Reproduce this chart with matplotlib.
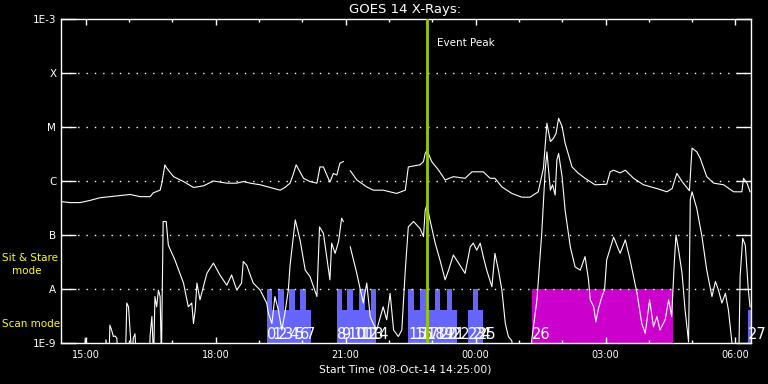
import numpy as np
import matplotlib
matplotlib.use('Agg')
import matplotlib.pyplot as plt
from matplotlib.ticker import FixedLocator, NullLocator

nan = np.nan

# time axis: hours after start time 08-Oct-14 14:25:00
start_hour = 14 + 25 / 60
t_end = 15.93

# GOES 14 long channel (1-8 A), log10 flux
long_t = [0.0, 0.22, 0.45, 0.68, 0.91, 1.14, 1.37, 1.61, 1.84, 2.07, 2.14, 2.30, 2.34, 2.41, 2.45,
          2.61, 2.84, 3.07, 3.30, 3.53, 3.84, 4.07, 4.22, 4.38, 4.61, 4.84, 5.07, 5.18, 5.30, 5.38,
          5.44, 5.53, 5.61, 5.76, 5.92, 5.99, 6.07, 6.15, 6.22, 6.30, 6.38, 6.45, 6.53, 6.60, 6.69,
          6.84, 7.07, 7.22, 7.45, 7.76, 7.96, 8.03, 8.30, 8.38, 8.42, 8.46, 8.57, 8.73, 8.88, 9.07,
          9.34, 9.50, 9.76, 9.92, 10.03, 10.19, 10.42, 10.65, 10.84, 11.03, 11.15, 11.23, 11.31, 11.38,
          11.44, 11.50, 11.58, 11.65, 11.81, 11.96, 12.11, 12.34, 12.61, 12.69, 12.77, 12.92, 13.04,
          13.23, 13.46, 13.81, 14.00, 14.12, 14.23, 14.35, 14.52, 14.58, 14.69, 14.77, 14.92, 15.08,
          15.31, 15.54, 15.73, 15.77, 15.85, 15.92]
long_v = [-6.38, -6.40, -6.40, -6.36, -6.31, -6.29, -6.27, -6.25, -6.29, -6.29, -6.22, -6.17, -6.04,
          -5.70, -5.76, -5.92, -6.01, -6.12, -6.09, -6.00, -6.04, -6.04, -6.01, -6.04, -6.07, -6.12,
          -6.17, -6.12, -6.04, -5.86, -5.70, -5.83, -5.95, -6.01, -6.04, -5.74, -5.74, -5.89, -6.02,
          -5.86, -5.89, -5.67, -5.64, nan, -5.81, -5.98, -6.11, -6.17, -6.17, -6.23, -6.17, -5.74,
          -5.70, -5.64, -5.49, -5.43, -5.64, -5.80, -5.98, -5.92, -5.95, -5.83, -5.83, -5.95, -5.95,
          -6.11, -6.23, -6.30, -6.30, -6.20, -5.76, -4.93, -5.27, -5.21, -5.12, -4.84, -4.99, -5.30,
          -5.74, -5.86, -5.95, -6.07, -6.06, -5.83, -5.80, -5.85, -5.80, -5.95, -6.07, -6.15, -6.20,
          -6.14, -5.86, -6.01, -6.18, -5.39, -5.46, -5.58, -5.92, -6.04, -6.07, -6.20, -6.20, -5.95,
          -6.04, -6.20]

# GOES 14 short channel (0.5-4 A), log10 flux (values under -9 are off scale)
short_t = [0.00, 0.55, 0.57, 0.60, 1.03, 1.05, 1.10, 1.12, 1.14, 1.18, 1.22, 1.26, 1.30, 1.33, 1.50,
           1.53, 1.57, 1.61, 1.65, 1.68, 1.72, 1.75, 2.05, 2.07, 2.11, 2.15, 2.18, 2.22, 2.26, 2.30,
           2.33, 2.37, 2.44, 2.49, 2.64, 2.84, 2.95, 3.03, 3.07, 3.11, 3.15, 3.22, 3.38, 3.53, 3.68,
           3.84, 3.95, 4.07, 4.18, 4.22, 4.30, 4.38, 4.45, 4.61, 4.76, 4.80, 4.88, 4.95, 5.03, 5.11,
           5.18, 5.26, 5.30, 5.42, 5.53, 5.65, 5.76, 5.92, 5.98, 6.07, 6.22, 6.26, 6.34, 6.42, 6.49,
           6.53, 6.60, 6.69, 6.84, 6.99, 7.07, 7.15, 7.22, 7.30, 7.45, 7.53, 7.61, 7.69, 7.80, 7.88,
           7.96, 8.03, 8.15, 8.30, 8.38, 8.42, 8.46, 8.53, 8.65, 8.76, 8.88, 8.96, 9.07, 9.19, 9.34,
           9.46, 9.53, 9.61, 9.69, 9.76, 9.84, 9.96, 10.03, 10.11, 10.19, 10.27, 10.34, 10.42, 10.45,
           10.86, 10.88, 11.00, 11.11, 11.19, 11.23, 11.31, 11.36, 11.42, 11.46, 11.50, 11.58, 11.65,
           11.77, 11.88, 12.00, 12.11, 12.19, 12.23, 12.31, 12.36, 12.42, 12.50, 12.56, 12.61, 12.69,
           12.77, 12.92, 13.04, 13.15, 13.23, 13.31, 13.42, 13.50, 13.60, 13.69, 13.77, 13.84, 13.96,
           14.04, 14.11, 14.17, 14.21, 14.27, 14.35, 14.42, 14.50, 14.54, 14.58, 14.69, 14.81, 14.92,
           15.04, 15.12, 15.19, 15.27, 15.35, 15.42, 15.50, 15.53, 15.66, 15.69, 15.75, 15.81, 15.88,
           15.92]
short_v = [-9.3, -9.3, -8.91, -9.3, -9.3, -8.94, -9.3, -9.3, -8.67, -8.76, -8.88, -8.87, -8.91, -9.3,
           -9.3, -8.26, -8.33, -8.83, -9.3, -8.91, -8.83, -9.3, -9.3, -8.85, -8.51, -9.3, -8.14, -8.33,
           -8.02, -8.14, -9.3, -6.75, -6.75, -7.19, -7.46, -7.89, -8.33, -8.26, -8.64, -8.39, -7.89,
           -8.20, -7.71, -7.52, -7.74, -7.93, -7.74, -8.02, -7.89, -7.49, -7.56, -7.74, -7.89, -8.02,
           -8.26, -8.45, -8.64, -8.14, -8.39, -8.76, -8.45, -8.02, -7.56, -6.72, -7.09, -7.65, -7.77,
           -8.14, -6.85, -6.97, -7.83, -7.15, -7.34, -7.12, -6.69, -6.75, nan, -7.22, -7.71, -8.26,
           -7.89, -8.51, -8.64, -8.76, -8.33, -8.57, -8.08, -8.76, -8.88, -8.76, -7.65, -6.85, -6.75,
           -6.88, -7.03, -6.54, -6.44, -6.72, -7.15, -7.46, -7.83, -7.65, -7.37, -7.52, -7.71, -7.22,
           -7.15, -7.28, -7.15, -7.40, -7.65, -7.96, -7.34, -7.65, -8.02, -8.64, -8.88, -8.96, -9.3,
           -9.3, -8.94, -8.20, -6.97, -5.80, -5.46, -6.17, -6.07, -6.26, -5.61, -5.49, -5.92, -6.54,
           -7.22, -7.59, -7.65, -7.40, -7.83, -8.20, -8.33, -8.61, -8.36, -8.14, -8.02, -7.46, -7.25,
           -7.04, -7.34, -7.09, -7.46, -7.77, -8.08, -8.64, -8.82, -8.20, -8.70, -8.51, -8.76, -8.57,
           -8.20, -8.51, -7.52, -7.00, -7.28, -7.71, -8.39, -8.98, -6.35, -6.20, -6.51, -7.03, -7.65,
           -8.14, -7.86, -8.02, -8.26, -8.08, -8.39, -8.98, -9.3, -9.3, -7.77, -7.06, -7.19, -8.02,
           -8.33]

# observations: start/end (hours after start), bar top (log10), mode
obs_start = [4.76, 4.89, 5.01, 5.15, 5.28, 5.42, 5.54, 5.67,
             6.38, 6.49, 6.62, 6.76, 6.90, 7.03, 7.16,
             8.03, 8.17, 8.31, 8.44, 8.65, 8.76, 8.93, 9.04, 9.41, 9.53, 9.64,
             10.89, 15.88]
obs_end = [4.89, 5.01, 5.15, 5.28, 5.42, 5.54, 5.67, 5.78,
           6.49, 6.62, 6.76, 6.90, 7.03, 7.16, 7.29,
           8.17, 8.31, 8.44, 8.65, 8.76, 8.93, 9.04, 9.16, 9.53, 9.64, 9.76,
           14.14, 16.10]
obs_top = [-8.0, -8.39, -8.0, -8.39, -8.0, -8.39, -8.0, -8.39,
           -8.0, -8.39, -8.0, -8.39, -8.0, -8.39, -8.0,
           -8.0, -8.39, -8.0, -8.39, -8.0, -8.39, -8.0, -8.39, -8.39, -8.0, -8.39,
           -8.0, -8.39]
obs_mode = ['scan'] * 26 + ['sit', 'scan']

peak_t = 8.45

level_vals = [1e-9, 1e-8, 1e-7, 1e-6, 1e-5, 1e-4, 1e-3]
level_labels = ['1E-9', 'A', 'B', 'C', 'M', 'X', '1E-3']

mode_colors = {'scan': '#6666ff', 'sit': '#cc00cc'}

fig = plt.figure(figsize=(7.68, 3.84), dpi=100, facecolor='black')
ax = fig.add_axes([60.5 / 768, 41 / 384, 690 / 768, 324 / 384])
ax.set_facecolor('black')
ax.set_yscale('log')
ax.set_ylim(1e-9, 1e-3)
ax.set_xlim(0, t_end)

# observation bars
for i in range(len(obs_start)):
    ax.bar(obs_start[i], 10 ** obs_top[i] - 1e-9, width=obs_end[i] - obs_start[i], bottom=1e-9,
           align='edge', color=mode_colors[obs_mode[i]], linewidth=0, zorder=1)

# dotted level lines
for lv in level_vals[1:-1]:
    ax.axhline(lv, color='white', lw=1, ls=(0, (1, 5)), zorder=2)

ax.plot(long_t, 10 ** np.array(long_v), color='white', lw=0.8, zorder=3)
ax.plot(short_t, 10 ** np.array(short_v), color='white', lw=0.8, zorder=3)

# observation numbers
for i in range(len(obs_start)):
    ax.text(obs_start[i], 10 ** -8.93, str(i), color='white', fontsize=10.5, ha='left',
            va='baseline', zorder=4, clip_on=False)

ax.axvline(peak_t, color='#99cc00', lw=2, zorder=5)
ax.annotate('Event Peak', xy=(peak_t, 1e-3), xytext=(7.5, -17), textcoords='offset points',
            color='white', fontsize=7.5, ha='left', va='center')

# axes styling
for s in ax.spines.values():
    s.set_color('white')
    s.set_linewidth(1)
ax.yaxis.set_major_locator(FixedLocator(level_vals))
ax.yaxis.set_minor_locator(NullLocator())
ax.set_yticklabels(level_labels)
first_tick = 15 - start_hour
major_pos = first_tick + 3 * np.arange(6)
minor_pos = first_tick + np.arange(16)
ax.xaxis.set_major_locator(FixedLocator(major_pos))
ax.xaxis.set_minor_locator(FixedLocator(minor_pos))
ax.set_xticklabels(['%02d:00' % (round(start_hour + p) % 24) for p in major_pos])
ax.tick_params(axis='y', which='major', direction='in', length=10.8, width=1, colors='white',
               left=True, right=True, labelsize=7.5, pad=3)
ax.tick_params(axis='x', which='major', direction='in', length=4.3, width=1, colors='white',
               top=True, bottom=True, labelsize=7, pad=5)
ax.tick_params(axis='x', which='minor', direction='in', length=2.2, width=1, colors='white',
               top=True, bottom=True)

ax.set_title('GOES 14 X-Rays:', color='white', fontsize=9.5, pad=4)
ax.set_xlabel('Start Time (08-Oct-14 14:25:00)', color='white', fontsize=7.7, labelpad=3)

fig.text(2 / 768, 1 - 258 / 384, 'Sit & Stare', color='yellow', fontsize=7.5, ha='left', va='center')
fig.text(12 / 768, 1 - 271 / 384, 'mode', color='yellow', fontsize=7.5, ha='left', va='center')
fig.text(2 / 768, 1 - 324 / 384, 'Scan mode', color='yellow', fontsize=7.5, ha='left', va='center')

fig.savefig('out.png', dpi=100, facecolor='black')
